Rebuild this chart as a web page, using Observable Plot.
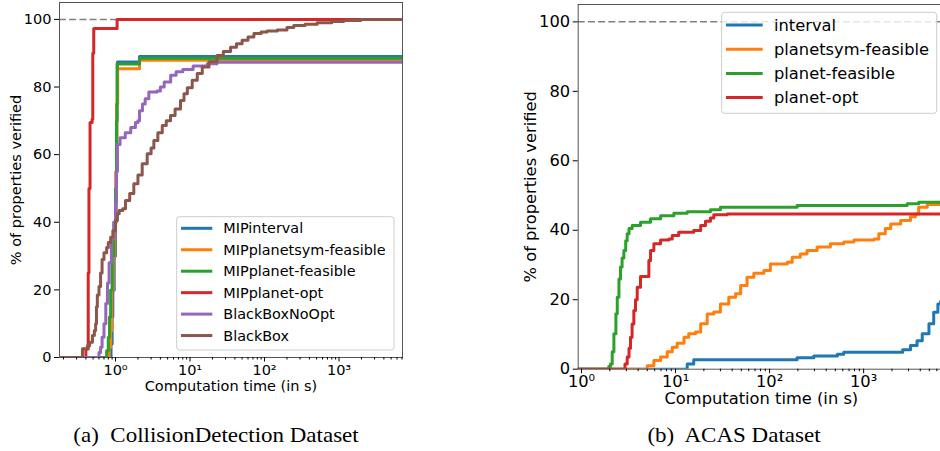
<!DOCTYPE html>
<html>
<head>
<meta charset="utf-8">
<script src="https://cdn.jsdelivr.net/npm/d3@7"></script>
<script src="https://cdn.jsdelivr.net/npm/@observablehq/plot@0.6"></script>
<style>
  html, body { margin: 0; padding: 0; background: #fff; }
  #wrap { position: relative; width: 940px; height: 451px; overflow: hidden; background: #fff; }
  #wrap > * { position: absolute; }
</style>
</head>
<body>
<div id="wrap"></div>
<script>
// ---------- DATA ----------
// (a) CollisionDetection dataset: [time in s, % verified]
const cdNames = ["MIPinterval", "MIPplanetsym-feasible", "MIPplanet-feasible", "MIPplanet-opt", "BlackBoxNoOpt", "BlackBox"];
const cdMIPinterval = [[0.177,0],[0.84,0],[0.87,4],[0.90,12],[0.92,20],[0.96,30],[1.0,40],[1.02,55],[1.04,75],[1.06,87.4],[2.05,87.4],[2.1,89.0],[7112,89.0]];
const cdMIPplanetsym = [[0.177,0],[0.78,0],[0.82,3],[0.86,8],[0.89,20],[0.93,30],[0.98,40],[1.01,55],[1.04,75],[1.07,85.4],[2.05,85.4],[2.1,87.9],[7112,87.9]];
const cdMIPplanetFeasible = [[0.177,0],[0.72,0],[0.76,2],[0.80,6],[0.83,12],[0.86,20],[0.90,30],[0.95,40],[1.0,50],[1.03,70],[1.05,86.8],[2.05,86.8],[2.1,88.5],[7112,88.5]];
const cdMIPplanetOpt = [[0.177,0],[0.39,0],[0.40,2.5],[0.425,2.5],[0.43,25],[0.44,50],[0.455,69.5],[0.485,70.5],[0.495,90],[0.51,97.3],[1.0,97.3],[1.05,100],[7112,100]];
const cdBlackBoxNoOpt = [[0.177,0],[0.57,0],[0.60,1.5],[0.63,3],[0.66,6],[0.70,10],[0.74,16],[0.78,22],[0.82,28],[0.88,35],[0.95,40],[1.0,46],[1.03,55],[1.06,63],[1.15,65],[1.35,66.5],[1.6,68],[1.85,69.5],[2.0,70],[2.1,73],[2.3,75],[2.5,76.5],[2.8,78.5],[3.6,78.8],[4.0,80],[4.5,81.5],[5.5,83.5],[6.5,84.5],[8,85.2],[11,86.2],[17,86.9],[23,87.3],[7112,87.3]];
const cdBlackBox = [[0.177,0],[0.34,0],[0.36,2.6],[0.42,3.5],[0.45,4.5],[0.49,6.5],[0.52,8],[0.54,10],[0.555,15],[0.57,18.5],[0.60,21],[0.63,25],[0.66,29],[0.70,31],[0.76,32.5],[0.80,34],[0.86,35.6],[0.92,37.5],[1.0,40.5],[1.06,42.5],[1.12,43.5],[1.25,44],[1.36,46.4],[1.55,48.5],[1.76,51.4],[2.0,54],[2.28,57.3],[2.66,60.3],[3.0,62],[3.27,64.2],[3.7,66.5],[4.24,68.6],[4.8,70],[5.47,71.6],[6.3,73.5],[7.45,76],[8.3,78],[9.2,79.8],[10.7,82],[12.5,84],[14.6,85.9],[18,87.5],[23,89.3],[28,90.5],[35,91.8],[42,92.8],[50,93.8],[60,94.8],[72,95.8],[90,96.3],[108,96.6],[148,96.9],[200,97.6],[247,98.2],[350,98.6],[508,99],[800,99.4],[1150,99.7],[1950,100],[7112,100]];
const cdSeries = [cdMIPinterval, cdMIPplanetsym, cdMIPplanetFeasible, cdMIPplanetOpt, cdBlackBoxNoOpt, cdBlackBox];

// (b) ACAS dataset
const acNames = ["interval", "planetsym-feasible", "planet-feasible", "planet-opt"];
const acInterval = [[0.92,0],[12.8,0],[13.3,1.5],[15.6,2.7],[167,2.7],[196,3.3],[295,3.8],[526,4.3],[614,4.9],[2280,4.9],[2600,5.6],[3150,6.8],[3700,8.2],[4200,10.2],[4950,13.1],[5560,16.4],[6160,18.8],[6600,19.5],[7244,20.5]];
const acPlanetsym = [[0.92,0],[4.6,0],[5.0,1],[5.88,2.5],[6.93,3.5],[8.15,5],[9.22,6.3],[10.4,7.5],[12.3,9.2],[13.8,10.2],[16.3,10.7],[18.5,13.1],[21.7,15.9],[25.5,16.5],[30,18.8],[36.8,20.7],[43.5,21.7],[49.2,24.1],[57.6,26.5],[68,27.6],[87,28.4],[102,30.3],[154,30.8],[174,32.2],[212,33.2],[250,34.2],[320,35.2],[443,36.1],[614,36.6],[790,37.2],[1290,37.5],[1450,39],[1700,40.5],[1940,41.8],[2475,42.8],[3150,43.9],[3550,44.7],[3850,46.6],[4750,47.4],[7244,47.4]];
const acPlanetFeasible = [[0.92,0],[1.80,0],[1.95,0.8],[2.03,1.5],[2.12,5],[2.21,10.2],[2.32,16],[2.40,20.7],[2.50,26],[2.60,29.4],[2.70,32],[2.82,34.2],[2.95,37],[3.06,39],[3.2,40.5],[3.46,41.4],[4.24,42.3],[5.42,43.3],[6.93,44.2],[9.6,44.9],[13.3,45.3],[23.5,45.9],[30,46.6],[196,47.1],[2900,47.6],[3850,48.1],[7244,48.1]];
const acPlanetOpt = [[0.92,0],[2.71,0],[2.9,1.5],[3.06,3.5],[3.2,6],[3.32,9.2],[3.45,13],[3.6,16.9],[3.75,20],[3.91,23.6],[4.24,26.7],[5.0,26.7],[5.2,31.3],[5.42,34.2],[5.88,36.1],[6.93,37.2],[8.48,37.5],[9.22,38.5],[10.8,39.4],[15.6,39.9],[18.5,41.4],[20.8,42.6],[23.5,43.5],[25.5,44.5],[35.3,44.7],[7244,44.7]];
const acSeries = [acInterval, acPlanetsym, acPlanetFeasible, acPlanetOpt];

const colors = ["#1f77b4", "#ff7f0e", "#2ca02c", "#d62728", "#9467bd", "#8c564b"];
const yTicks = [0, 20, 40, 60, 80, 100];
const xTicks = [1, 10, 100, 1000];
const xTickLabels = ["10⁰", "10¹", "10²", "10³"];
const xLabel = "Computation time (in s)";
const yLabel = "% of properties verified";
const captions = ["(a)  CollisionDetection Dataset", "(b)  ACAS Dataset"];

// ---------- HELPERS ----------
function minorTicks(lo, hi) {
  const out = [];
  for (let e = -2; e <= 4; e++) for (let m = 2; m <= 9; m++) {
    const v = m * Math.pow(10, e);
    if (v > lo && v < hi) out.push(v);
  }
  return out;
}
const fmtX = d => xTickLabels[xTicks.indexOf(d)] ?? "";

function panel({names, series, domainX, width, height, mL, mR, mT, mB, font, yLabelDx, xLabelDy, xPad}) {
  const table = series.flatMap((s, i) => s.map(([t, v]) => ({t, v, name: names[i], i})));
  return Plot.plot({
    width, height,
    marginLeft: mL, marginRight: mR, marginTop: mT, marginBottom: mB,
    style: {fontFamily: "DejaVu Sans", fontSize: font + "px", background: "transparent", overflow: "visible", color: "#000"},
    x: {type: "log", domain: domainX},
    y: {domain: [0, 105]},
    color: {domain: names, range: colors.slice(0, names.length)},
    marks: [
      Plot.ruleY([100], {stroke: "#808080", strokeWidth: 1.5, strokeDasharray: "7,3.2"}),
      Plot.line(table, {x: "t", y: "v", z: "name", stroke: "name", strokeWidth: 3, curve: "step-after", clip: true}),
      Plot.frame({stroke: "#555", strokeWidth: 1}),
      Plot.axisY({ticks: yTicks, tickSize: 5, tickPadding: 3, label: null, fontSize: font}),
      Plot.axisX({ticks: xTicks, tickFormat: fmtX, tickSize: 4.5, tickPadding: xPad, label: null, fontSize: font}),
      Plot.axisX({ticks: minorTicks(domainX[0], domainX[1]), tickFormat: null, tickSize: 2.5, label: null, text: null}),
      Plot.text([xLabel], {text: d => d, frameAnchor: "bottom", textAnchor: "middle", lineAnchor: "middle", dy: xLabelDy, fontSize: font}),
      Plot.text([yLabel], {text: d => d, frameAnchor: "left", textAnchor: "middle", lineAnchor: "middle", dx: yLabelDx, rotate: -90, fontSize: font})
    ]
  });
}

const wrap = document.getElementById("wrap");

const left = panel({names: cdNames, series: cdSeries, domainX: [0.177, 7112],
  width: 420, height: 400, mL: 59, mR: 18, mT: 2, mB: 43, font: 14.5, yLabelDx: -43, xLabelDy: 28.5, xPad: 2.5});
left.style.left = "0px"; left.style.top = "0px";
wrap.appendChild(left);

const right = panel({names: acNames, series: acSeries, domainX: [0.922, 7244],
  width: 474, height: 410, mL: 97.7, mR: 10, mT: 4, mB: 41.3, font: 16.3, yLabelDx: -47, xLabelDy: 30, xPad: 1.5});
right.style.left = "480px"; right.style.top = "0px";
wrap.appendChild(right);

// ---------- OVERLAY: legends and captions ----------
const ov = d3.create("svg").attr("width", 940).attr("height", 451)
  .style("left", "0px").style("top", "0px").style("pointer-events", "none");

function legend(names, box, rows, x1, x2, tx, font) {
  ov.append("rect").attr("x", box[0]).attr("y", box[1]).attr("width", box[2]).attr("height", box[3])
    .attr("rx", 3).attr("fill", "rgba(255,255,255,0.8)").attr("stroke", "#cccccc").attr("stroke-width", 1);
  names.forEach((n, i) => {
    const y = rows[0] + i * rows[1];
    ov.append("line").attr("x1", x1).attr("x2", x2).attr("y1", y).attr("y2", y)
      .attr("stroke", colors[i]).attr("stroke-width", 3);
    ov.append("text").attr("x", tx).attr("y", y).attr("dy", "0.36em")
      .attr("font-family", "DejaVu Sans").attr("font-size", font).attr("fill", "#000").text(n);
  });
}
legend(cdNames, [176.7, 216.7, 217.3, 133.3], [228.3, 21.45], 181, 212.3, 223.3, 14.4);
legend(acNames, [721.7, 12.3, 215, 101], [25, 24.2], 726, 762.7, 774, 16.3);

[[216, captions[0]], [734, captions[1]]].forEach(([cx, t]) => {
  ov.append("text").attr("x", 0).attr("y", 0)
    .attr("transform", `translate(${cx},442) scale(1.15,1)`)
    .attr("text-anchor", "middle").attr("font-family", "Liberation Serif, Times New Roman, serif")
    .style("white-space", "pre").attr("xml:space", "preserve")
    .attr("font-size", 20).attr("fill", "#000").text(t);
});
wrap.appendChild(ov.node());
</script>
</body>
</html>
